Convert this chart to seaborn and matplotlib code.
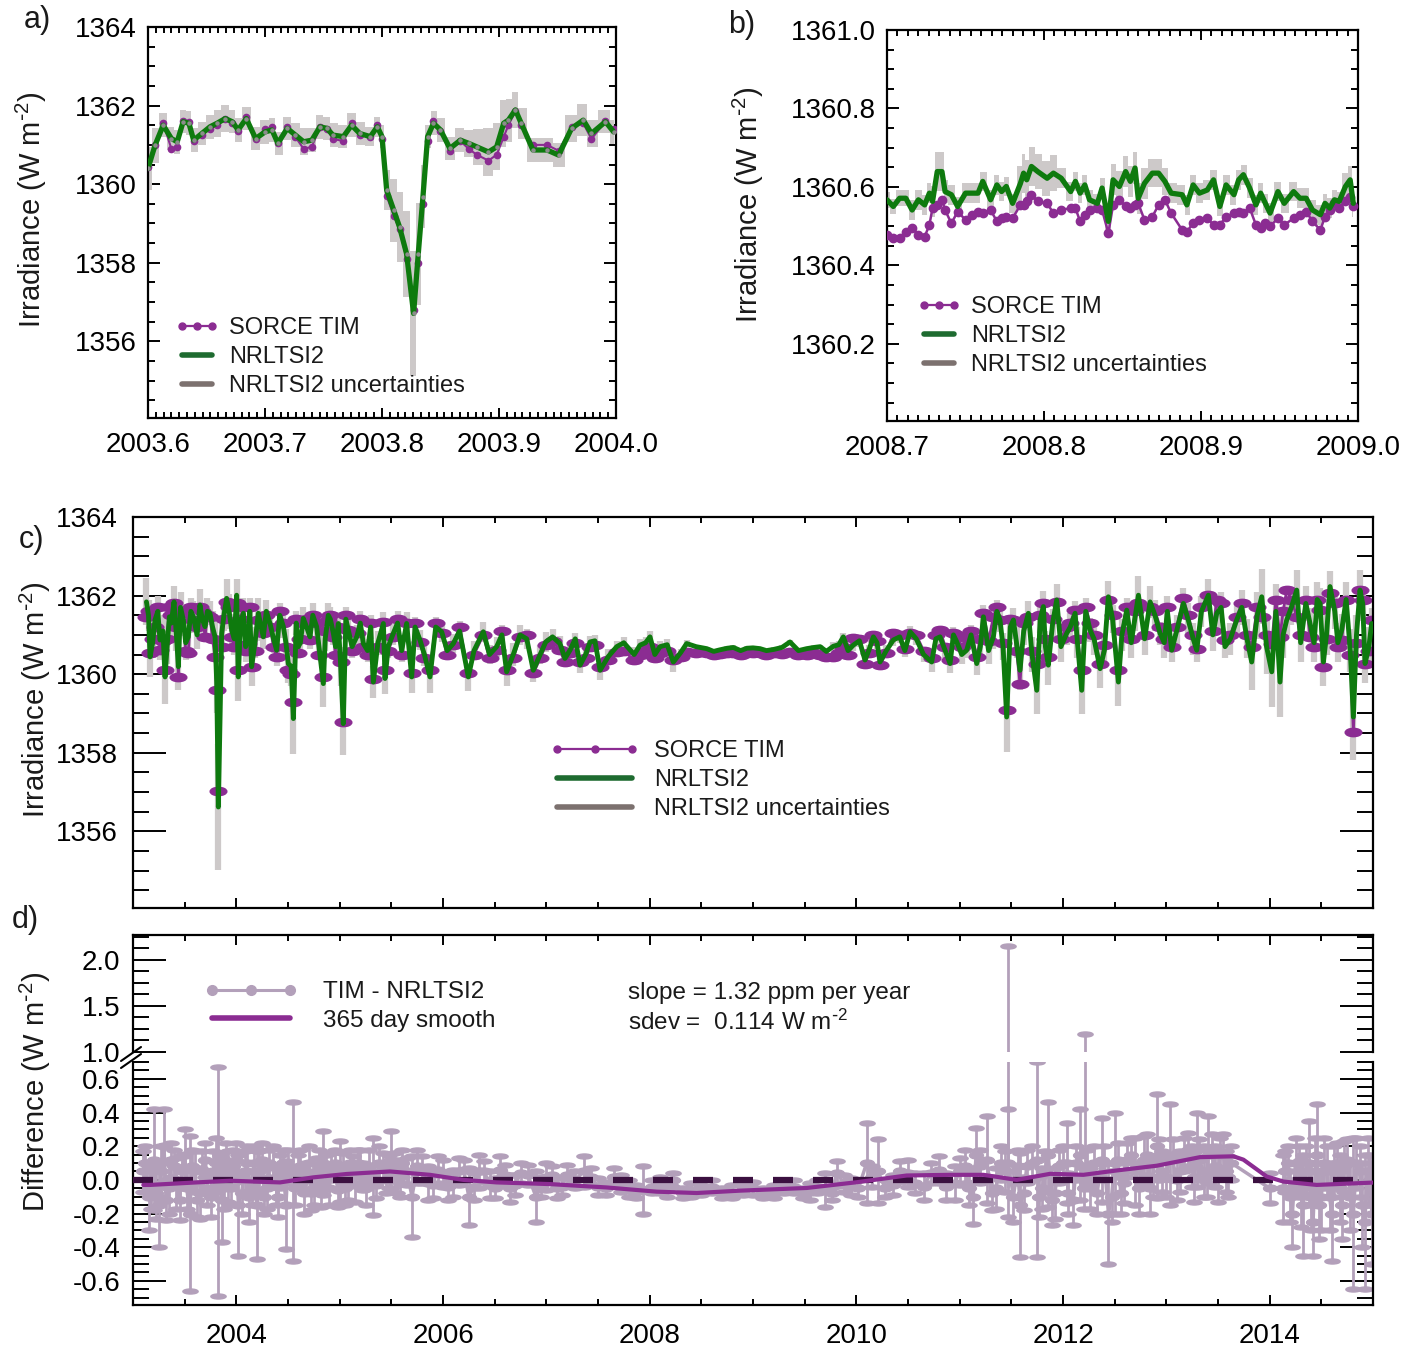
"""
SORCE TIM vs NRLTSI2 total solar irradiance: four panel comparison figure.
"""

import matplotlib
matplotlib.use("Agg")  # no display
import matplotlib.pyplot as plt
from matplotlib.lines import Line2D
from matplotlib.path import Path
from matplotlib.ticker import MultipleLocator, FormatStrFormatter
import seaborn as sns
import numpy as np


# ============================================================
# Data
# ============================================================
# --- panel a: late 2003 (Halloween sunspots) ---
a_year = [2003.600, 2003.606, 2003.613, 2003.620, 2003.625, 2003.630, 2003.635, 2003.639, 2003.646, 2003.653,
          2003.659, 2003.666, 2003.672, 2003.677, 2003.684, 2003.692, 2003.700, 2003.706, 2003.711, 2003.719,
          2003.726, 2003.733, 2003.740, 2003.747, 2003.753, 2003.758, 2003.767, 2003.774, 2003.781, 2003.790,
          2003.796, 2003.800, 2003.804, 2003.810, 2003.815, 2003.821, 2003.827, 2003.831, 2003.835, 2003.839,
          2003.844, 2003.850, 2003.858, 2003.867, 2003.874, 2003.881, 2003.891, 2003.898, 2003.904, 2003.908,
          2003.914, 2003.919, 2003.929, 2003.941, 2003.951, 2003.962, 2003.972, 2003.979, 2003.991, 2003.998]
a_nrl = [1360.40, 1360.99, 1361.50, 1361.16, 1361.08, 1361.59, 1361.55, 1361.12, 1361.29, 1361.46,
         1361.55, 1361.67, 1361.59, 1361.38, 1361.67, 1361.16, 1361.33, 1361.38, 1361.04, 1361.42,
         1361.25, 1361.08, 1361.12, 1361.46, 1361.42, 1361.25, 1361.21, 1361.50, 1361.29, 1361.21,
         1361.46, 1361.21, 1359.85, 1359.34, 1358.91, 1358.23, 1356.71, 1358.23, 1359.68, 1361.21,
         1361.55, 1361.38, 1360.91, 1361.12, 1361.04, 1360.95, 1360.82, 1360.95, 1361.55, 1361.63,
         1361.89, 1361.55, 1360.87, 1360.87, 1360.74, 1361.42, 1361.63, 1361.29, 1361.59, 1361.33]
a_tim = [1360.45, 1361.00, 1361.55, 1360.90, 1360.95, 1361.62, 1361.58, 1361.10, 1361.25, 1361.40,
         1361.50, 1361.65, 1361.55, 1361.35, 1361.70, 1361.15, 1361.40, 1361.45, 1361.05, 1361.45,
         1361.20, 1360.90, 1360.95, 1361.45, 1361.40, 1361.15, 1361.10, 1361.55, 1361.25, 1361.20,
         1361.50, 1361.15, 1359.70, 1359.20, 1358.85, 1358.10, 1356.80, 1358.00, 1359.50, 1361.10,
         1361.60, 1361.35, 1360.85, 1361.10, 1360.90, 1360.75, 1360.60, 1360.75, 1361.20, 1361.50,
         1361.85, 1361.50, 1361.00, 1361.00, 1360.85, 1361.45, 1361.55, 1361.15, 1361.60, 1361.40]
a_unc = [0.55, 0.45, 0.30, 0.30, 0.30, 0.30, 0.30, 0.30, 0.30, 0.30,
         0.35, 0.35, 0.30, 0.30, 0.30, 0.30, 0.30, 0.30, 0.30, 0.30,
         0.30, 0.35, 0.30, 0.30, 0.30, 0.30, 0.30, 0.30, 0.30, 0.25,
         0.25, 0.30, 0.50, 0.80, 0.90, 1.10, 1.60, 1.30, 0.80, 0.30,
         0.30, 0.30, 0.30, 0.30, 0.35, 0.45, 0.60, 0.60, 0.60, 0.55,
         0.45, 0.40, 0.30, 0.30, 0.30, 0.35, 0.40, 0.35, 0.30, 0.30]

# --- panel b: late 2008 (solar minimum) ---
b_year = [2008.700, 2008.704, 2008.708, 2008.712, 2008.716, 2008.720, 2008.724, 2008.727, 2008.729, 2008.732,
          2008.735, 2008.737, 2008.741, 2008.745, 2008.750, 2008.754, 2008.758, 2008.761, 2008.766, 2008.770,
          2008.773, 2008.776, 2008.780, 2008.785, 2008.787, 2008.789, 2008.792, 2008.796, 2008.802, 2008.806,
          2008.811, 2008.817, 2008.820, 2008.823, 2008.826, 2008.829, 2008.834, 2008.837, 2008.841, 2008.844,
          2008.848, 2008.852, 2008.855, 2008.858, 2008.860, 2008.864, 2008.869, 2008.873, 2008.877, 2008.881,
          2008.888, 2008.891, 2008.895, 2008.899, 2008.904, 2008.908, 2008.912, 2008.916, 2008.921, 2008.924,
          2008.927, 2008.931, 2008.935, 2008.938, 2008.941, 2008.944, 2008.949, 2008.953, 2008.959, 2008.963,
          2008.967, 2008.971, 2008.976, 2008.979, 2008.982, 2008.985, 2008.988, 2008.992, 2008.995, 2008.997]
b_nrl = [1360.567, 1360.550, 1360.571, 1360.571, 1360.541, 1360.567, 1360.554, 1360.584, 1360.563, 1360.639,
         1360.639, 1360.588, 1360.580, 1360.550, 1360.584, 1360.584, 1360.584, 1360.614, 1360.567, 1360.605,
         1360.588, 1360.601, 1360.558, 1360.609, 1360.635, 1360.618, 1360.652, 1360.639, 1360.622, 1360.635,
         1360.622, 1360.588, 1360.614, 1360.584, 1360.605, 1360.567, 1360.558, 1360.597, 1360.512, 1360.618,
         1360.601, 1360.639, 1360.614, 1360.648, 1360.571, 1360.609, 1360.635, 1360.635, 1360.614, 1360.584,
         1360.580, 1360.554, 1360.605, 1360.584, 1360.592, 1360.618, 1360.550, 1360.605, 1360.580, 1360.618,
         1360.631, 1360.597, 1360.554, 1360.584, 1360.558, 1360.533, 1360.588, 1360.558, 1360.588, 1360.571,
         1360.571, 1360.541, 1360.529, 1360.558, 1360.546, 1360.567, 1360.563, 1360.601, 1360.618, 1360.558]
b_tim = [1360.478, 1360.469, 1360.469, 1360.486, 1360.495, 1360.478, 1360.473, 1360.503, 1360.546, 1360.554,
         1360.567, 1360.541, 1360.507, 1360.537, 1360.516, 1360.529, 1360.537, 1360.533, 1360.541, 1360.512,
         1360.520, 1360.524, 1360.520, 1360.554, 1360.554, 1360.563, 1360.580, 1360.563, 1360.558, 1360.533,
         1360.541, 1360.546, 1360.546, 1360.512, 1360.529, 1360.541, 1360.546, 1360.541, 1360.482, 1360.554,
         1360.567, 1360.550, 1360.546, 1360.554, 1360.558, 1360.516, 1360.524, 1360.554, 1360.567, 1360.533,
         1360.490, 1360.486, 1360.507, 1360.516, 1360.520, 1360.503, 1360.503, 1360.524, 1360.533, 1360.537,
         1360.533, 1360.546, 1360.503, 1360.495, 1360.507, 1360.499, 1360.520, 1360.503, 1360.520, 1360.529,
         1360.537, 1360.512, 1360.490, 1360.524, 1360.541, 1360.558, 1360.546, 1360.563, 1360.575, 1360.550]
b_unc = [0.020, 0.020, 0.020, 0.020, 0.025, 0.025, 0.025, 0.025, 0.040, 0.050,
         0.050, 0.030, 0.025, 0.025, 0.025, 0.025, 0.025, 0.025, 0.025, 0.025,
         0.025, 0.025, 0.025, 0.045, 0.050, 0.050, 0.050, 0.045, 0.045, 0.045,
         0.025, 0.025, 0.025, 0.025, 0.025, 0.025, 0.025, 0.025, 0.040, 0.040,
         0.040, 0.040, 0.040, 0.040, 0.040, 0.040, 0.035, 0.035, 0.035, 0.025,
         0.025, 0.025, 0.025, 0.025, 0.025, 0.025, 0.025, 0.025, 0.025, 0.025,
         0.025, 0.025, 0.025, 0.025, 0.025, 0.025, 0.025, 0.025, 0.025, 0.025,
         0.025, 0.025, 0.025, 0.025, 0.025, 0.025, 0.025, 0.035, 0.035, 0.035]

# --- panel c: full SORCE record (dips and peaks) ---
c_year = [2003.130, 2003.165, 2003.213, 2003.261, 2003.310, 2003.352, 2003.397, 2003.439, 2003.487, 2003.535,
          2003.584, 2003.648, 2003.697, 2003.745, 2003.794, 2003.826, 2003.858, 2003.906, 2003.955, 2004.003,
          2004.019, 2004.068, 2004.116, 2004.148, 2004.213, 2004.261, 2004.326, 2004.390, 2004.455, 2004.503,
          2004.552, 2004.600, 2004.648, 2004.713, 2004.777, 2004.842, 2004.890, 2004.939, 2004.987, 2005.035,
          2005.084, 2005.165, 2005.229, 2005.326, 2005.423, 2005.439, 2005.519, 2005.648, 2005.697, 2005.777,
          2005.874, 2005.987, 2006.100, 2006.245, 2006.390, 2006.519, 2006.616, 2006.745, 2006.874, 2006.994,
          2007.132, 2007.229, 2007.326, 2007.423, 2007.520, 2007.681, 2007.907, 2008.003, 2008.100, 2008.229,
          2008.358, 2008.552, 2008.680, 2008.810, 2008.940, 2009.068, 2009.200, 2009.358, 2009.520, 2009.650,
          2009.777, 2009.874, 2009.971, 2010.084, 2010.165, 2010.229, 2010.358, 2010.520, 2010.729, 2010.810,
          2010.907, 2010.972, 2011.068, 2011.165, 2011.230, 2011.326, 2011.390, 2011.455, 2011.520, 2011.584,
          2011.665, 2011.746, 2011.810, 2011.858, 2011.939, 2012.036, 2012.117, 2012.181, 2012.262, 2012.359,
          2012.439, 2012.536, 2012.617, 2012.730, 2012.843, 2012.939, 2013.052, 2013.165, 2013.294, 2013.407,
          2013.488, 2013.568, 2013.681, 2013.826, 2013.923, 2014.020, 2014.100, 2014.165, 2014.262, 2014.391,
          2014.488, 2014.520, 2014.584, 2014.697, 2014.810, 2014.874, 2014.923, 2014.987]
c_nrl = [1361.84, 1360.44, 1361.38, 1360.87, 1359.93, 1361.46, 1361.84, 1360.19, 1361.38, 1360.95,
         1361.46, 1361.76, 1361.21, 1361.55, 1360.95, 1356.62, 1361.04, 1361.93, 1361.12, 1362.01,
         1359.93, 1361.55, 1360.95, 1360.19, 1361.55, 1360.95, 1361.29, 1360.61, 1361.21, 1360.27,
         1358.87, 1360.70, 1361.42, 1360.95, 1361.21, 1359.76, 1361.50, 1361.04, 1361.29, 1358.74,
         1361.12, 1360.95, 1360.78, 1359.80, 1361.29, 1359.89, 1361.04, 1361.29, 1359.93, 1360.87,
         1359.93, 1361.08, 1360.78, 1359.93, 1361.08, 1360.70, 1360.06, 1361.00, 1360.10, 1360.82,
         1360.78, 1360.61, 1360.23, 1360.82, 1360.10, 1360.70, 1360.74, 1360.95, 1360.70, 1360.31,
         1360.78, 1360.65, 1360.62, 1360.68, 1360.66, 1360.65, 1360.63, 1360.82, 1360.65, 1360.70,
         1360.71, 1360.95, 1360.74, 1360.36, 1360.95, 1360.31, 1360.87, 1361.08, 1360.31, 1360.95,
         1360.27, 1360.82, 1360.61, 1360.27, 1361.46, 1360.95, 1361.38, 1358.91, 1361.38, 1360.10,
         1361.55, 1359.59, 1361.72, 1360.23, 1361.89, 1361.04, 1361.55, 1359.59, 1361.12, 1360.14,
         1361.97, 1359.80, 1361.63, 1362.01, 1361.84, 1361.04, 1360.61, 1361.80, 1360.61, 1362.01,
         1361.55, 1360.70, 1361.38, 1360.31, 1361.97, 1360.06, 1359.80, 1361.38, 1362.14, 1361.29,
         1361.80, 1360.31, 1362.23, 1361.12, 1358.91, 1362.14, 1360.27, 1361.29]
c_tim = [1361.46, 1360.53, 1361.21, 1360.61, 1360.10, 1361.72, 1361.80, 1359.93, 1361.55, 1360.53,
         1361.38, 1361.72, 1360.95, 1361.46, 1360.44, 1357.04, 1360.70, 1361.84, 1360.95, 1361.80,
         1360.10, 1361.72, 1360.78, 1360.19, 1361.38, 1361.04, 1361.21, 1360.44, 1361.29, 1360.10,
         1359.30, 1360.53, 1361.29, 1360.87, 1361.29, 1359.93, 1361.38, 1360.95, 1361.21, 1358.79,
         1361.12, 1361.04, 1360.70, 1359.89, 1361.33, 1360.10, 1360.95, 1361.29, 1360.02, 1360.82,
         1360.10, 1361.04, 1360.74, 1360.02, 1361.00, 1360.61, 1360.10, 1360.95, 1360.02, 1360.74,
         1360.61, 1360.53, 1360.31, 1360.70, 1360.19, 1360.57, 1360.49, 1360.70, 1360.53, 1360.36,
         1360.57, 1360.53, 1360.52, 1360.53, 1360.53, 1360.53, 1360.53, 1360.57, 1360.49, 1360.50,
         1360.44, 1360.70, 1360.91, 1360.27, 1361.00, 1360.23, 1361.04, 1361.04, 1360.40, 1361.12,
         1360.36, 1360.99, 1360.91, 1360.44, 1361.55, 1361.46, 1361.38, 1359.08, 1361.38, 1359.76,
         1361.46, 1360.27, 1361.80, 1360.44, 1361.84, 1361.21, 1361.63, 1360.10, 1361.29, 1360.27,
         1361.89, 1360.10, 1361.72, 1361.80, 1361.72, 1361.21, 1360.70, 1361.93, 1360.65, 1362.01,
         1361.89, 1360.87, 1361.46, 1360.70, 1361.46, 1360.78, 1360.95, 1362.14, 1361.46, 1360.95,
         1361.63, 1360.19, 1362.06, 1360.87, 1358.53, 1362.14, 1360.27, 1361.38]
c_unc = [0.60, 0.50, 0.40, 0.50, 0.70, 0.40, 0.40, 0.60, 0.40, 0.40,
         0.40, 0.40, 0.40, 0.30, 0.50, 1.60, 0.40, 0.50, 0.40, 0.40,
         0.60, 0.40, 0.40, 0.50, 0.40, 0.30, 0.30, 0.40, 0.30, 0.50,
         0.90, 0.30, 0.30, 0.30, 0.30, 0.60, 0.30, 0.30, 0.30, 0.80,
         0.30, 0.30, 0.30, 0.40, 0.30, 0.40, 0.30, 0.30, 0.40, 0.25,
         0.40, 0.25, 0.25, 0.35, 0.25, 0.25, 0.35, 0.25, 0.30, 0.25,
         0.20, 0.20, 0.20, 0.15, 0.25, 0.15, 0.15, 0.15, 0.15, 0.25,
         0.10, 0.05, 0.05, 0.05, 0.05, 0.05, 0.05, 0.05, 0.05, 0.05,
         0.10, 0.10, 0.15, 0.20, 0.15, 0.20, 0.15, 0.15, 0.25, 0.20,
         0.25, 0.20, 0.20, 0.30, 0.30, 0.30, 0.30, 0.90, 0.30, 0.50,
         0.30, 0.60, 0.40, 0.50, 0.40, 0.30, 0.30, 0.60, 0.30, 0.50,
         0.40, 0.60, 0.30, 0.50, 0.40, 0.30, 0.30, 0.40, 0.30, 0.40,
         0.40, 0.30, 0.40, 0.70, 0.70, 0.90, 0.90, 0.40, 0.50, 0.40,
         0.40, 0.60, 0.40, 0.40, 1.10, 0.50, 0.50, 0.40]

# --- panel c: in-between days that fill the dense band ---
cf_year = [2003.15, 2003.19, 2003.24, 2003.29, 2003.33, 2003.37, 2003.42, 2003.46, 2003.51, 2003.56,
           2003.62, 2003.67, 2003.72, 2003.77, 2003.81, 2003.88, 2003.93, 2003.98, 2004.04, 2004.09,
           2004.13, 2004.18, 2004.24, 2004.29, 2004.36, 2004.42, 2004.48, 2004.53, 2004.58, 2004.62,
           2004.68, 2004.74, 2004.80, 2004.86, 2004.91, 2004.96, 2005.01, 2005.06, 2005.12, 2005.20,
           2005.27, 2005.30, 2005.37, 2005.47, 2005.56, 2005.60, 2005.73, 2005.82, 2005.93, 2006.04,
           2006.16, 2006.30, 2006.45, 2006.57, 2006.68, 2006.81, 2006.94, 2007.06, 2007.18, 2007.28,
           2007.38, 2007.47, 2007.60, 2007.75, 2007.85, 2007.96, 2008.05, 2008.17, 2008.30, 2008.45,
           2008.62, 2008.75, 2008.88, 2009.00, 2009.13, 2009.28, 2009.44, 2009.59, 2009.71, 2009.83,
           2009.92, 2010.03, 2010.12, 2010.20, 2010.29, 2010.42, 2010.47, 2010.58, 2010.65, 2010.77,
           2010.86, 2010.94, 2011.02, 2011.11, 2011.20, 2011.28, 2011.36, 2011.42, 2011.49, 2011.55,
           2011.62, 2011.70, 2011.78, 2011.83, 2011.90, 2011.98, 2012.07, 2012.14, 2012.22, 2012.30,
           2012.40, 2012.48, 2012.57, 2012.66, 2012.70, 2012.79, 2012.89, 2012.98, 2013.01, 2013.10,
           2013.21, 2013.26, 2013.34, 2013.45, 2013.53, 2013.62, 2013.73, 2013.78, 2013.88, 2013.97,
           2014.06, 2014.13, 2014.21, 2014.30, 2014.35, 2014.43, 2014.46, 2014.55, 2014.63, 2014.66,
           2014.74, 2014.78, 2014.84, 2014.90, 2014.96]
cf_nrl = [1361.50, 1360.80, 1361.60, 1361.10, 1360.70, 1361.30, 1361.00, 1361.70, 1360.80, 1361.60,
          1361.00, 1361.40, 1361.60, 1361.20, 1359.80, 1361.50, 1361.60, 1360.90, 1361.30, 1360.70,
          1361.60, 1360.80, 1361.20, 1361.60, 1360.90, 1361.50, 1360.80, 1360.20, 1361.30, 1360.80,
          1361.20, 1361.50, 1360.70, 1360.90, 1361.40, 1360.70, 1360.20, 1361.40, 1360.70, 1361.30,
          1360.60, 1361.20, 1360.80, 1360.70, 1361.30, 1360.60, 1361.20, 1360.50, 1361.20, 1360.60,
          1361.10, 1360.60, 1360.50, 1361.00, 1360.50, 1360.90, 1360.50, 1360.95, 1360.40, 1360.90,
          1360.50, 1360.85, 1360.45, 1360.80, 1360.50, 1360.80, 1360.50, 1360.75, 1360.55, 1360.70,
          1360.58, 1360.66, 1360.60, 1360.67, 1360.60, 1360.68, 1360.60, 1360.68, 1360.58, 1360.75,
          1360.60, 1360.85, 1360.60, 1360.80, 1360.60, 1360.95, 1360.60, 1360.90, 1360.50, 1360.90,
          1360.60, 1361.00, 1360.50, 1361.00, 1360.70, 1360.60, 1361.60, 1360.70, 1361.20, 1360.80,
          1361.10, 1360.50, 1361.40, 1360.70, 1361.30, 1360.70, 1361.20, 1360.80, 1361.60, 1360.90,
          1360.60, 1361.40, 1361.00, 1360.80, 1361.50, 1360.90, 1361.50, 1360.80, 1361.60, 1361.10,
          1361.40, 1360.90, 1361.60, 1361.00, 1361.70, 1360.90, 1361.70, 1360.90, 1361.50, 1360.70,
          1361.60, 1361.00, 1361.70, 1360.80, 1361.80, 1360.80, 1361.90, 1361.00, 1361.60, 1360.80,
          1361.90, 1360.60, 1361.00, 1361.80, 1360.70]
cf_tim = [1361.60, 1360.90, 1361.70, 1360.85, 1360.90, 1361.50, 1361.20, 1361.60, 1360.60, 1361.70,
          1361.20, 1361.60, 1361.50, 1360.90, 1359.60, 1361.40, 1361.70, 1360.70, 1361.40, 1360.60,
          1361.70, 1360.60, 1361.40, 1361.50, 1360.70, 1361.60, 1360.70, 1360.00, 1361.40, 1360.90,
          1361.40, 1361.50, 1360.50, 1361.10, 1361.50, 1360.50, 1360.30, 1361.50, 1360.60, 1361.40,
          1360.50, 1361.30, 1360.70, 1360.60, 1361.40, 1360.50, 1361.30, 1360.40, 1361.30, 1360.50,
          1361.20, 1360.50, 1360.40, 1361.10, 1360.40, 1361.00, 1360.40, 1360.85, 1360.30, 1360.80,
          1360.40, 1360.75, 1360.35, 1360.60, 1360.35, 1360.60, 1360.40, 1360.60, 1360.45, 1360.55,
          1360.50, 1360.55, 1360.50, 1360.55, 1360.50, 1360.52, 1360.48, 1360.55, 1360.45, 1360.55,
          1360.50, 1360.90, 1360.55, 1360.85, 1360.55, 1361.00, 1360.65, 1361.00, 1360.60, 1361.00,
          1360.70, 1361.05, 1360.70, 1361.10, 1360.90, 1360.85, 1361.70, 1360.80, 1361.40, 1360.60,
          1361.30, 1360.60, 1361.50, 1360.90, 1361.40, 1360.90, 1361.30, 1360.90, 1361.70, 1361.00,
          1360.75, 1361.50, 1361.10, 1360.90, 1361.60, 1361.00, 1361.60, 1360.90, 1361.70, 1361.20,
          1361.50, 1361.00, 1361.70, 1361.10, 1361.80, 1361.00, 1361.80, 1361.00, 1361.70, 1361.00,
          1361.90, 1361.60, 1361.90, 1361.00, 1361.90, 1360.70, 1361.90, 1360.90, 1361.80, 1360.70,
          1361.90, 1360.50, 1360.80, 1361.90, 1360.60]
cf_unc = [0.40, 0.40, 0.40, 0.40, 0.45, 0.35, 0.40, 0.40, 0.45, 0.35,
          0.35, 0.35, 0.35, 0.40, 0.80, 0.40, 0.45, 0.40, 0.35, 0.40,
          0.35, 0.40, 0.35, 0.30, 0.35, 0.30, 0.35, 0.50, 0.30, 0.30,
          0.30, 0.30, 0.35, 0.30, 0.30, 0.35, 0.50, 0.30, 0.30, 0.30,
          0.30, 0.30, 0.30, 0.30, 0.30, 0.30, 0.25, 0.30, 0.25, 0.25,
          0.25, 0.25, 0.25, 0.25, 0.30, 0.25, 0.25, 0.20, 0.20, 0.15,
          0.20, 0.15, 0.20, 0.15, 0.20, 0.15, 0.15, 0.15, 0.10, 0.05,
          0.05, 0.05, 0.05, 0.05, 0.05, 0.05, 0.05, 0.05, 0.08, 0.10,
          0.10, 0.15, 0.15, 0.15, 0.15, 0.15, 0.15, 0.15, 0.20, 0.20,
          0.20, 0.20, 0.25, 0.25, 0.30, 0.35, 0.30, 0.35, 0.30, 0.40,
          0.35, 0.45, 0.35, 0.40, 0.35, 0.40, 0.35, 0.40, 0.35, 0.40,
          0.45, 0.35, 0.40, 0.40, 0.40, 0.40, 0.40, 0.40, 0.40, 0.40,
          0.40, 0.40, 0.40, 0.40, 0.40, 0.40, 0.45, 0.50, 0.60, 0.70,
          0.70, 0.60, 0.45, 0.50, 0.45, 0.50, 0.45, 0.50, 0.45, 0.50,
          0.45, 0.55, 0.50, 0.45, 0.50]

# --- panel d: TIM - NRLTSI2 ---
d_year = [2003.10, 2003.15, 2003.20, 2003.25, 2003.30, 2003.35, 2003.40, 2003.45, 2003.50, 2003.55,
          2003.60, 2003.65, 2003.70, 2003.75, 2003.80, 2003.826, 2003.86, 2003.90, 2003.95, 2004.00,
          2004.02, 2004.08, 2004.12, 2004.17, 2004.20, 2004.25, 2004.30, 2004.35, 2004.40, 2004.45,
          2004.48, 2004.552, 2004.60, 2004.65, 2004.70, 2004.75, 2004.80, 2004.842, 2004.90, 2004.95,
          2005.00, 2005.05, 2005.10, 2005.15, 2005.20, 2005.25, 2005.32, 2005.38, 2005.45, 2005.50,
          2005.55, 2005.60, 2005.70, 2005.75, 2005.85, 2005.95, 2006.05, 2006.15, 2006.25, 2006.35,
          2006.45, 2006.55, 2006.65, 2006.75, 2006.90, 2007.00, 2007.10, 2007.20, 2007.36, 2007.50,
          2007.65, 2007.80, 2007.94, 2008.10, 2008.23, 2008.40, 2008.60, 2008.80, 2009.00, 2009.20,
          2009.40, 2009.55, 2009.70, 2009.81, 2009.95, 2010.10, 2010.21, 2010.35, 2010.50, 2010.65,
          2010.80, 2010.95, 2011.05, 2011.13, 2011.16, 2011.26, 2011.35, 2011.40, 2011.47, 2011.52,
          2011.585, 2011.65, 2011.746, 2011.80, 2011.858, 2011.92, 2012.00, 2012.036, 2012.10, 2012.165,
          2012.26, 2012.30, 2012.375, 2012.44, 2012.50, 2012.56, 2012.62, 2012.70, 2012.78, 2012.84,
          2012.907, 2012.96, 2013.036, 2013.10, 2013.17, 2013.25, 2013.294, 2013.36, 2013.407, 2013.47,
          2013.52, 2013.58, 2013.63, 2014.00, 2014.13, 2014.18, 2014.22, 2014.28, 2014.32, 2014.38,
          2014.42, 2014.46, 2014.50, 2014.55, 2014.60, 2014.65, 2014.70, 2014.75, 2014.81, 2014.87,
          2014.92, 2014.97]
d_diff = [0.05, -0.10, 0.12, -0.15, 0.20, -0.05, 0.08, -0.12, 0.15, -0.20,
          0.05, -0.08, 0.12, -0.10, 0.10, -0.01, -0.12, 0.10, -0.05, 0.12,
          -0.15, 0.05, -0.10, 0.10, -0.15, 0.12, -0.05, 0.08, -0.10, 0.10,
          -0.15, -0.01, 0.05, -0.08, 0.10, -0.05, 0.08, 0.10, -0.05, 0.10,
          0.05, -0.05, 0.10, -0.03, 0.08, -0.05, 0.02, 0.10, 0.00, 0.12,
          0.02, 0.10, -0.10, 0.08, -0.02, 0.06, -0.04, 0.05, -0.10, 0.05,
          -0.03, 0.06, -0.05, 0.04, -0.10, 0.02, -0.05, 0.03, 0.05, -0.04,
          0.02, -0.05, -0.06, -0.03, 0.00, -0.06, -0.04, -0.07, -0.05, -0.07,
          -0.04, -0.07, -0.06, 0.04, -0.04, 0.10, 0.05, -0.03, 0.04, -0.04,
          0.06, -0.02, 0.08, -0.10, 0.15, 0.12, -0.05, 0.10, 0.10, -0.10,
          -0.15, 0.08, 0.12, -0.05, 0.15, -0.08, 0.10, 0.10, -0.12, 0.15,
          -0.05, 0.10, 0.12, -0.20, 0.10, -0.08, 0.12, 0.05, 0.12, -0.05,
          0.20, 0.05, 0.15, 0.00, 0.15, 0.08, 0.18, 0.05, 0.18, 0.08,
          0.15, 0.05, 0.10, -0.05, -0.05, 0.10, -0.20, 0.05, -0.15, 0.10,
          -0.25, 0.15, -0.10, 0.05, -0.20, 0.10, -0.15, 0.12, -0.20, 0.05,
          -0.25, 0.00]
d_err = [0.12, 0.20, 0.30, 0.25, 0.22, 0.15, 0.10, 0.12, 0.15, 0.46,
         0.12, 0.15, 0.10, 0.12, 0.15, 0.68, 0.25, 0.12, 0.10, 0.10,
         0.30, 0.12, 0.15, 0.10, 0.32, 0.10, 0.12, 0.12, 0.12, 0.08,
         0.26, 0.47, 0.10, 0.12, 0.10, 0.10, 0.10, 0.19, 0.10, 0.08,
         0.18, 0.10, 0.08, 0.10, 0.10, 0.10, 0.23, 0.10, 0.08, 0.17,
         0.10, 0.08, 0.24, 0.10, 0.10, 0.08, 0.08, 0.08, 0.17, 0.10,
         0.08, 0.08, 0.08, 0.06, 0.15, 0.08, 0.06, 0.06, 0.09, 0.05,
         0.05, 0.05, 0.14, 0.05, 0.04, 0.04, 0.04, 0.04, 0.04, 0.04,
         0.04, 0.05, 0.10, 0.075, 0.05, 0.24, 0.19, 0.06, 0.08, 0.08,
         0.08, 0.10, 0.10, 0.16, 0.16, 0.26, 0.12, 0.10, 0.32, 0.15,
         0.31, 0.10, 0.58, 0.12, 0.31, 0.15, 0.10, 0.24, 0.15, 0.27,
         0.12, 0.10, 0.25, 0.30, 0.30, 0.12, 0.10, 0.20, 0.14, 0.15,
         0.31, 0.12, 0.30, 0.12, 0.10, 0.12, 0.22, 0.15, 0.20, 0.12,
         0.10, 0.12, 0.10, 0.09, 0.20, 0.10, 0.20, 0.15, 0.30, 0.25,
         0.20, 0.30, 0.20, 0.15, 0.28, 0.12, 0.20, 0.12, 0.45, 0.15,
         0.40, 0.15]

# --- panel d: in-between days that fill the dense band ---
df_year = [2003.12, 2003.17, 2003.22, 2003.27, 2003.32, 2003.37, 2003.42, 2003.47, 2003.52, 2003.57,
           2003.62, 2003.67, 2003.72, 2003.77, 2003.84, 2003.88, 2003.92, 2003.97, 2004.05, 2004.10,
           2004.15, 2004.22, 2004.27, 2004.32, 2004.38, 2004.42, 2004.50, 2004.57, 2004.62, 2004.67,
           2004.72, 2004.78, 2004.82, 2004.87, 2004.92, 2004.98, 2005.03, 2005.08, 2005.13, 2005.18,
           2005.23, 2005.28, 2005.35, 2005.42, 2005.48, 2005.53, 2005.58, 2005.65, 2005.80, 2005.90,
           2006.00, 2006.10, 2006.20, 2006.30, 2006.40, 2006.50, 2006.60, 2006.70, 2006.82, 2006.95,
           2007.05, 2007.15, 2007.28, 2007.43, 2007.58, 2007.72, 2007.87, 2008.02, 2008.17, 2008.32,
           2008.50, 2008.70, 2008.90, 2009.10, 2009.30, 2009.48, 2009.62, 2009.76, 2009.88, 2010.02,
           2010.15, 2010.28, 2010.42, 2010.57, 2010.72, 2010.87, 2011.00, 2011.09, 2011.20, 2011.31,
           2011.44, 2011.56, 2011.62, 2011.70, 2011.77, 2011.83, 2011.89, 2011.96, 2012.05, 2012.13,
           2012.20, 2012.23, 2012.33, 2012.40, 2012.47, 2012.53, 2012.59, 2012.66, 2012.74, 2012.81,
           2012.87, 2012.93, 2013.00, 2013.06, 2013.13, 2013.21, 2013.27, 2013.32, 2013.39, 2013.44,
           2013.50, 2013.55, 2013.60, 2014.15, 2014.20, 2014.25, 2014.30, 2014.35, 2014.40, 2014.44,
           2014.48, 2014.53, 2014.58, 2014.62, 2014.68, 2014.72, 2014.78, 2014.84, 2014.89, 2014.95,
           2014.99]
df_diff = [0.10, -0.05, -0.08, 0.05, -0.12, 0.12, -0.02, 0.05, -0.05, 0.08,
           -0.12, 0.05, -0.05, 0.05, 0.05, -0.05, 0.02, 0.08, -0.08, 0.10,
           -0.05, 0.05, -0.10, 0.10, -0.03, 0.05, 0.08, -0.05, 0.08, 0.02,
           -0.08, 0.05, -0.06, 0.05, 0.08, -0.06, 0.08, -0.02, 0.06, 0.10,
           0.02, 0.08, -0.03, 0.08, 0.05, 0.08, -0.02, 0.05, 0.06, -0.03,
           0.04, -0.02, 0.06, -0.04, 0.05, -0.05, 0.03, -0.03, 0.03, -0.04,
           0.03, -0.04, 0.00, 0.02, -0.05, -0.02, -0.07, -0.04, -0.06, -0.08,
           -0.06, -0.08, -0.06, -0.08, -0.05, -0.08, -0.04, -0.08, -0.02, -0.05,
           0.02, -0.05, 0.05, -0.02, 0.04, -0.04, 0.05, -0.05, 0.08, -0.08,
           0.05, 0.08, -0.08, 0.10, -0.10, 0.05, -0.12, 0.08, -0.08, 0.10,
           -0.05, 0.08, -0.08, 0.10, -0.10, 0.12, -0.02, 0.15, -0.05, 0.15,
           0.02, 0.12, 0.02, 0.12, 0.05, 0.18, 0.02, 0.12, 0.02, 0.15,
           0.02, 0.15, 0.02, 0.05, -0.10, 0.10, -0.08, 0.05, -0.10, 0.05,
           -0.15, 0.10, -0.10, 0.05, -0.05, 0.08, -0.10, 0.10, -0.15, 0.05,
           -0.20]
df_err = [0.10, 0.12, 0.15, 0.15, 0.12, 0.10, 0.15, 0.10, 0.12, 0.10,
          0.10, 0.12, 0.10, 0.12, 0.10, 0.12, 0.15, 0.10, 0.12, 0.10,
          0.10, 0.12, 0.10, 0.08, 0.12, 0.10, 0.10, 0.10, 0.10, 0.08,
          0.10, 0.08, 0.10, 0.10, 0.08, 0.10, 0.08, 0.10, 0.08, 0.08,
          0.08, 0.10, 0.08, 0.08, 0.10, 0.08, 0.08, 0.08, 0.08, 0.08,
          0.08, 0.08, 0.06, 0.08, 0.06, 0.06, 0.06, 0.06, 0.06, 0.06,
          0.05, 0.05, 0.05, 0.05, 0.04, 0.05, 0.04, 0.04, 0.04, 0.03,
          0.03, 0.03, 0.03, 0.03, 0.03, 0.03, 0.04, 0.04, 0.05, 0.05,
          0.06, 0.05, 0.06, 0.06, 0.06, 0.08, 0.08, 0.10, 0.10, 0.10,
          0.12, 0.10, 0.10, 0.10, 0.12, 0.12, 0.15, 0.10, 0.12, 0.10,
          0.12, 0.10, 0.12, 0.10, 0.15, 0.10, 0.12, 0.10, 0.15, 0.12,
          0.12, 0.12, 0.12, 0.12, 0.12, 0.10, 0.15, 0.12, 0.12, 0.12,
          0.15, 0.12, 0.12, 0.12, 0.15, 0.15, 0.20, 0.15, 0.20, 0.20,
          0.20, 0.15, 0.20, 0.15, 0.20, 0.15, 0.20, 0.15, 0.25, 0.20,
          0.30]

# two outliers that reach into the upper (broken) part of the axis
spike_year = [2011.472, 2012.213]
spike_diff = [0.05, 0.10]
spike_bottom = [-0.05, 0.00]
spike_top = [2.15, 1.20]

# 365 day smooth of the difference
s_year = [2003.10, 2003.165, 2003.616, 2003.939, 2004.423, 2004.745, 2005.068, 2005.487, 2005.874, 2006.197,
          2006.519, 2007.035, 2007.584, 2008.068, 2008.455, 2008.874, 2009.520, 2010.003, 2010.487, 2010.907,
          2011.230, 2011.552, 2011.875, 2012.197, 2012.520, 2012.907, 2013.326, 2013.649, 2013.746, 2013.971,
          2014.133, 2014.455, 2015.000]
s_val = [-0.030, -0.030, -0.015, -0.005, -0.015, 0.015, 0.035, 0.050, 0.030, 0.000,
         -0.015, -0.025, -0.045, -0.070, -0.078, -0.064, -0.048, -0.014, 0.026, 0.030,
         0.030, 0.000, 0.036, 0.030, 0.056, 0.084, 0.135, 0.140, 0.120, 0.020,
         -0.010, -0.030, -0.016]

LABEL_TIM = "SORCE TIM"
LABEL_NRL = "NRLTSI2"
LABEL_UNC = "NRLTSI2 uncertainties"
IRR_LABEL = r"Irradiance (W m$^{\text{-}2}$)"
DIFF_LABEL = r"Difference (W m$^{\text{-}2}$)"


# ============================================================
# Style
# ============================================================
sns.set_theme(style="ticks")
plt.rcParams["font.family"] = ["Liberation Sans", "DejaVu Sans"]
plt.rcParams["mathtext.default"] = "regular"
plt.rcParams["axes.unicode_minus"] = False
plt.rcParams["axes.linewidth"] = 1.6
plt.rcParams["axes.edgecolor"] = "black"
plt.rcParams["xtick.color"] = "black"
plt.rcParams["ytick.color"] = "black"
plt.rcParams["text.color"] = "#1a1a1a"
plt.rcParams["axes.facecolor"] = "white"

PURPLE = "#8B2C92"
GREEN = "#0E7A0E"
GREEN_DARK = "#1E6B30"
BAND = "#CDC9C9"
UNC = "#7C716F"
DIFF = "#B3A0BA"
ZERO = "#3B1040"
TICK_FS = 20
LEG_FS = 17

_circ = Path.unit_circle()
ELLIPSE = Path(_circ.vertices * [1.0, 0.5], _circ.codes)
FLAT = Path(_circ.vertices * [1.0, 0.33], _circ.codes)

W, H = 1423, 1347
fig = plt.figure(figsize=(W / 100, H / 100), dpi=100)
fig.patch.set_facecolor("white")


def px_axes(x0, y0, x1, y1):
    """Axes from pixel box (top-left origin)."""
    return fig.add_axes([x0 / W, 1 - y1 / H, (x1 - x0) / W, (y1 - y0) / H])


def fig_text(x, y, s, **kw):
    fig.text(x / W, 1 - y / H, s, **kw)


def merged(*cols):
    """Merge two sets of columns and sort them by the first one (year)."""
    rows = sorted(zip(*cols))
    return [np.array(c) for c in zip(*rows)]


def set_ticks(ax, xmaj, xmin, ymaj, ymin, xlen, ylen, xpad=10, ypad=8):
    ax.xaxis.set_major_locator(MultipleLocator(xmaj))
    ax.xaxis.set_minor_locator(MultipleLocator(xmin))
    ax.yaxis.set_major_locator(MultipleLocator(ymaj))
    ax.yaxis.set_minor_locator(MultipleLocator(ymin))
    ax.tick_params(which="both", direction="in", top=True, right=True,
                   labelsize=TICK_FS, width=1.4)
    ax.tick_params(axis="x", which="major", length=xlen[0], pad=xpad)
    ax.tick_params(axis="x", which="minor", length=xlen[1])
    ax.tick_params(axis="y", which="major", length=ylen[0], pad=ypad)
    ax.tick_params(axis="y", which="minor", length=ylen[1])
    ax.set_xlabel("")
    ax.set_ylabel("")


def irr_legend(ax, x, y, hlen, hpad, green=GREEN_DARK):
    handles = [
        Line2D([], [], color=PURPLE, lw=1.6, marker="o", ms=5),
        Line2D([], [], color=green, lw=4),
        Line2D([], [], color=UNC, lw=4),
    ]
    ax.legend(handles, [LABEL_TIM, LABEL_NRL, LABEL_UNC], loc="center left",
              bbox_to_anchor=(x, y), frameon=False, fontsize=LEG_FS,
              handlelength=hlen, handletextpad=hpad, labelspacing=0.3,
              borderpad=0, borderaxespad=0, numpoints=3)


# ============================================================
# a) late 2003
# ============================================================
ax_a = px_axes(148, 27, 616, 418)
a_lo = np.array(a_nrl) - np.array(a_unc)
a_hi = np.array(a_nrl) + np.array(a_unc)
ax_a.fill_between(a_year, a_lo, a_hi, step="mid", color=BAND, lw=0, zorder=1)
ax_a.plot(a_year, a_tim, color=PURPLE, lw=1.5, marker="o", ms=4.5, zorder=3)
sns.lineplot(x=a_year, y=a_nrl, ax=ax_a, color=GREEN, lw=3.8,
             sort=False, estimator=None, zorder=4)
ax_a.plot(a_year, a_nrl, ls="none", marker="o", ms=2.2, color="#8d8d8d", zorder=5)
ax_a.set_xlim(2003.6, 2004.0)
ax_a.set_ylim(1354.05, 1364)
set_ticks(ax_a, 0.1, 0.1 / 15, 2, 0.5, (7, 4), (8.5, 5))
ax_a.xaxis.set_major_formatter(FormatStrFormatter("%.1f"))
irr_legend(ax_a, 0.058, 0.156, 1.85, 0.42)
fig_text(31, 210, IRR_LABEL, rotation=90, ha="center", va="center", fontsize=21)
fig_text(37, 20, "a)", ha="center", va="center", fontsize=22)

# ============================================================
# b) late 2008
# ============================================================
ax_b = px_axes(887, 30, 1358, 421)
b_lo = np.array(b_nrl) - np.array(b_unc)
b_hi = np.array(b_nrl) + np.array(b_unc)
ax_b.fill_between(b_year, b_lo, b_hi, step="mid", color=BAND, lw=0, zorder=1)
ax_b.plot(b_year, b_tim, color=PURPLE, lw=1.8, marker="o", ms=6, zorder=3)
sns.lineplot(x=b_year, y=b_nrl, ax=ax_b, color=GREEN, lw=3.8,
             sort=False, estimator=None, zorder=4)
ax_b.set_xlim(2008.7, 2009.0)
ax_b.set_ylim(1360.003, 1361.0)
set_ticks(ax_b, 0.1, 0.1 / 15, 0.2, 0.05, (7, 4), (8.5, 5))
ax_b.xaxis.set_major_formatter(FormatStrFormatter("%.1f"))
ax_b.yaxis.set_major_formatter(FormatStrFormatter("%.1f"))
irr_legend(ax_b, 0.064, 0.217, 1.85, 0.42)
fig_text(748, 205, IRR_LABEL, rotation=90, ha="center", va="center", fontsize=21)
fig_text(742, 25, "b)", ha="center", va="center", fontsize=22)

# ============================================================
# c) full record
# ============================================================
cy, cn, ct, cu = merged(c_year + cf_year, c_nrl + cf_nrl, c_tim + cf_tim, c_unc + cf_unc)
ax_c = px_axes(133, 517, 1373, 908)
ax_c.errorbar(cy, cn, yerr=cu, fmt="none", ecolor=BAND,
              elinewidth=4.5, capsize=0, zorder=1)
ax_c.plot(cy, ct, color=PURPLE, lw=2, marker=ELLIPSE, ms=12, zorder=2)
sns.lineplot(x=cy, y=cn, ax=ax_c, color=GREEN, lw=3.5,
             sort=False, estimator=None, zorder=3)
ax_c.set_xlim(2003, 2015)
ax_c.set_ylim(1354.05, 1364)
set_ticks(ax_c, 2, 0.5, 2, 0.5, (7, 4.5), (24, 11.5), ypad=11)
ax_c.tick_params(labelbottom=False)
irr_legend(ax_c, 0.336, 0.327, 3.8, 0.64)
fig_text(35, 700, IRR_LABEL, rotation=90, ha="center", va="center", fontsize=21)
fig_text(32, 540, "c)", ha="center", va="center", fontsize=22)

# ============================================================
# d) difference, broken y axis
# ============================================================
dy, dd, de = merged(d_year + df_year, d_diff + df_diff, d_err + df_err)
ax_dt = px_axes(133, 935, 1373, 1052)
ax_db = px_axes(133, 1062, 1373, 1305)
sp_err = [np.array(spike_diff) - np.array(spike_bottom),
          np.array(spike_top) - np.array(spike_diff)]

for ax in (ax_dt, ax_db):
    ax.errorbar(dy, dd, yerr=de, fmt="none", ecolor=DIFF,
                elinewidth=2.0, capsize=0, zorder=1)
    ax.errorbar(spike_year, spike_diff, yerr=sp_err, fmt="none", ecolor=DIFF,
                elinewidth=2.0, capsize=0, zorder=1)
    ax.plot(dy, dd + de, ls="none", marker=FLAT, ms=11, color=DIFF, zorder=1)
    ax.plot(dy, dd - de, ls="none", marker=FLAT, ms=11, color=DIFF, zorder=1)
    ax.plot(spike_year, spike_top, ls="none", marker=FLAT, ms=11, color=DIFF, zorder=1)
    ax.plot(dy, dd, color=DIFF, lw=2.5, marker=ELLIPSE, ms=10, zorder=2)
    ax.axhline(0, color=ZERO, lw=4.5, dashes=(3.2, 3.2), zorder=3)
    sns.lineplot(x=s_year, y=s_val, ax=ax, color=PURPLE, lw=3,
                 sort=False, estimator=None, zorder=4)
    ax.set_xlim(2003, 2015)

ax_dt.set_ylim(1.0, 2.27)
ax_db.set_ylim(-0.743, 0.70)
set_ticks(ax_dt, 2, 0.5, 0.5, 0.125, (7, 4.5), (24, 11.5), ypad=9)
set_ticks(ax_db, 2, 0.5, 0.2, 0.05, (7, 4.5), (24, 11.5), xpad=13, ypad=9)
ax_dt.spines["bottom"].set_visible(False)
ax_dt.tick_params(which="both", bottom=False, labelbottom=False)
ax_db.spines["top"].set_visible(False)
ax_db.tick_params(which="both", top=False)
ax_dt.yaxis.set_major_formatter(FormatStrFormatter("%.1f"))
ax_db.yaxis.set_major_formatter(FormatStrFormatter("%.1f"))
ax_db.xaxis.set_major_formatter(FormatStrFormatter("%d"))

d_handles = [Line2D([], [], color=DIFF, lw=2.2, marker="o", ms=7),
             Line2D([], [], color=PURPLE, lw=4)]
ax_dt.legend(d_handles, ["TIM - NRLTSI2", "365 day smooth"], loc="center left",
             bbox_to_anchor=(0.058, 0.389), frameon=False, fontsize=17.5,
             handlelength=3.8, handletextpad=1.05, labelspacing=0.25,
             borderpad=0, borderaxespad=0, numpoints=3)

fig_text(628, 993, "slope = 1.32 ppm per year", ha="left", va="center", fontsize=17.5)
fig_text(628, 1022, r"sdev =  0.114 W m$^{\text{-}2}$", ha="left", va="center", fontsize=17.5)
fig_text(35, 1092, DIFF_LABEL, rotation=90, ha="center", va="center", fontsize=21)
fig_text(25, 920, "d)", ha="center", va="center", fontsize=22)

# axis-break marks on the left spine
for off in (0, 7):
    fig.add_artist(Line2D([121 / W, 141 / W],
                          [1 - (1061 + off) / H, 1 - (1047 + off) / H],
                          color="black", lw=1.5, transform=fig.transFigure))

fig.savefig("out.png", dpi=100, facecolor="white")
